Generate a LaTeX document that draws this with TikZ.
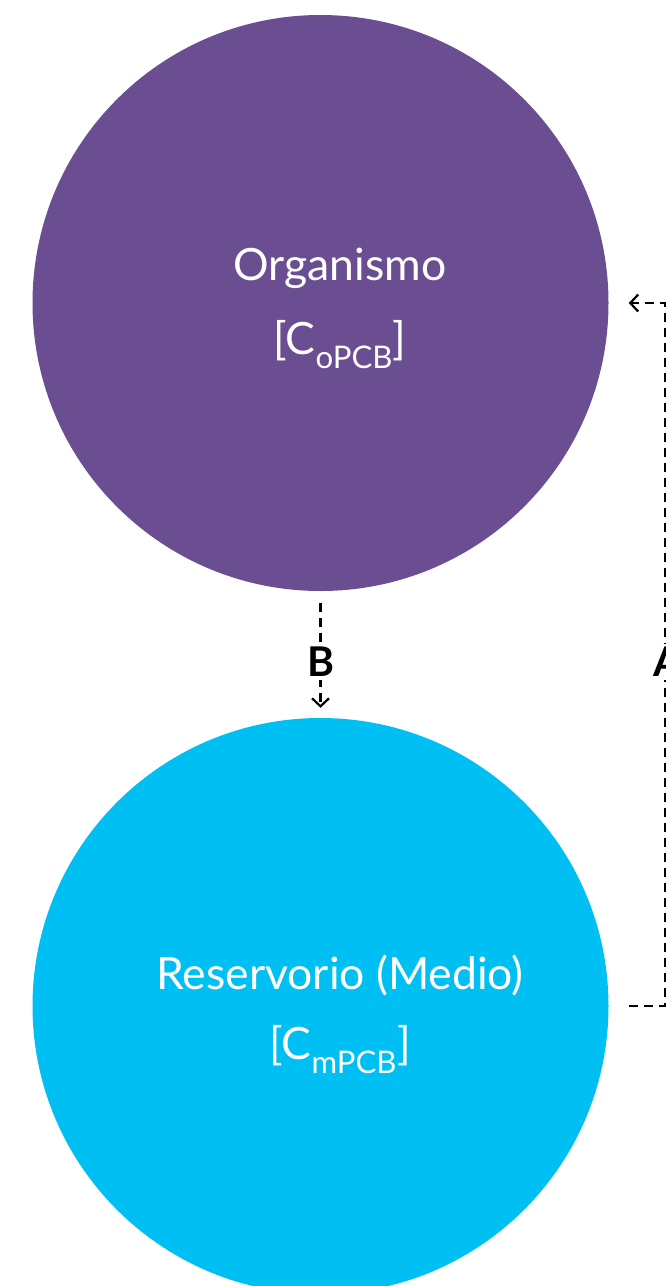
\documentclass[tikz,border=0pt]{standalone}
\usepackage{fontspec}
\setmainfont{Lato}
\usetikzlibrary{arrows.meta,calc}
\definecolor{orgpurple}{RGB}{106,78,145}
\definecolor{rescyan}{RGB}{0,192,243}
\tikzset{
  bigcircle/.style={circle, minimum size=576pt, inner sep=0pt},
  intext/.style={text=white, font=\fontsize{44.5}{50}\selectfont},
  dashlink/.style={line width=2.2pt, dash pattern=on 9pt off 6pt, -{Straight Barb[length=8pt,width=17pt,line width=2.2pt]}},
  lbl/.style={fill=white, inner sep=3pt, font=\fontsize{41}{46}\selectfont\bfseries}
}
\begin{document}
\begin{tikzpicture}[x=1pt,y=-1pt]
\useasboundingbox (0,0) rectangle (666,1286);
\clip (0,0) rectangle (666,1286);
\node[bigcircle, fill=orgpurple] (org) at (320.5,303) {};
\node[bigcircle, fill=rescyan] (res) at (320.5,1006) {};
\node[intext] (orgname) at (340,268) {Organismo};
\node[intext] (orgconc) at (340,345) {[C\textsubscript{oPCB}]};
\node[intext] (resname) at (340,975) {Reservorio (Medio)};
\node[intext] (resconc) at (340,1050) {[C\textsubscript{mPCB}]};
\coordinate (bstart) at ($(org.south)+(0,12)$);
\coordinate (bend) at ($(res.north)+(0,-10)$);
\draw[dashlink] (bstart) -- (bend);
\node[lbl] (B) at (320.5,662) {B};
\coordinate (astart) at ($(res.east)+(20,0)$);
\coordinate (aend) at ($(org.east)+(20,0)$);
\draw[dashlink] (astart) -- (665,1006) -- (665,303) -- (aend);
\node[lbl] (A) at (668,662) {A};
\end{tikzpicture}
\end{document}
